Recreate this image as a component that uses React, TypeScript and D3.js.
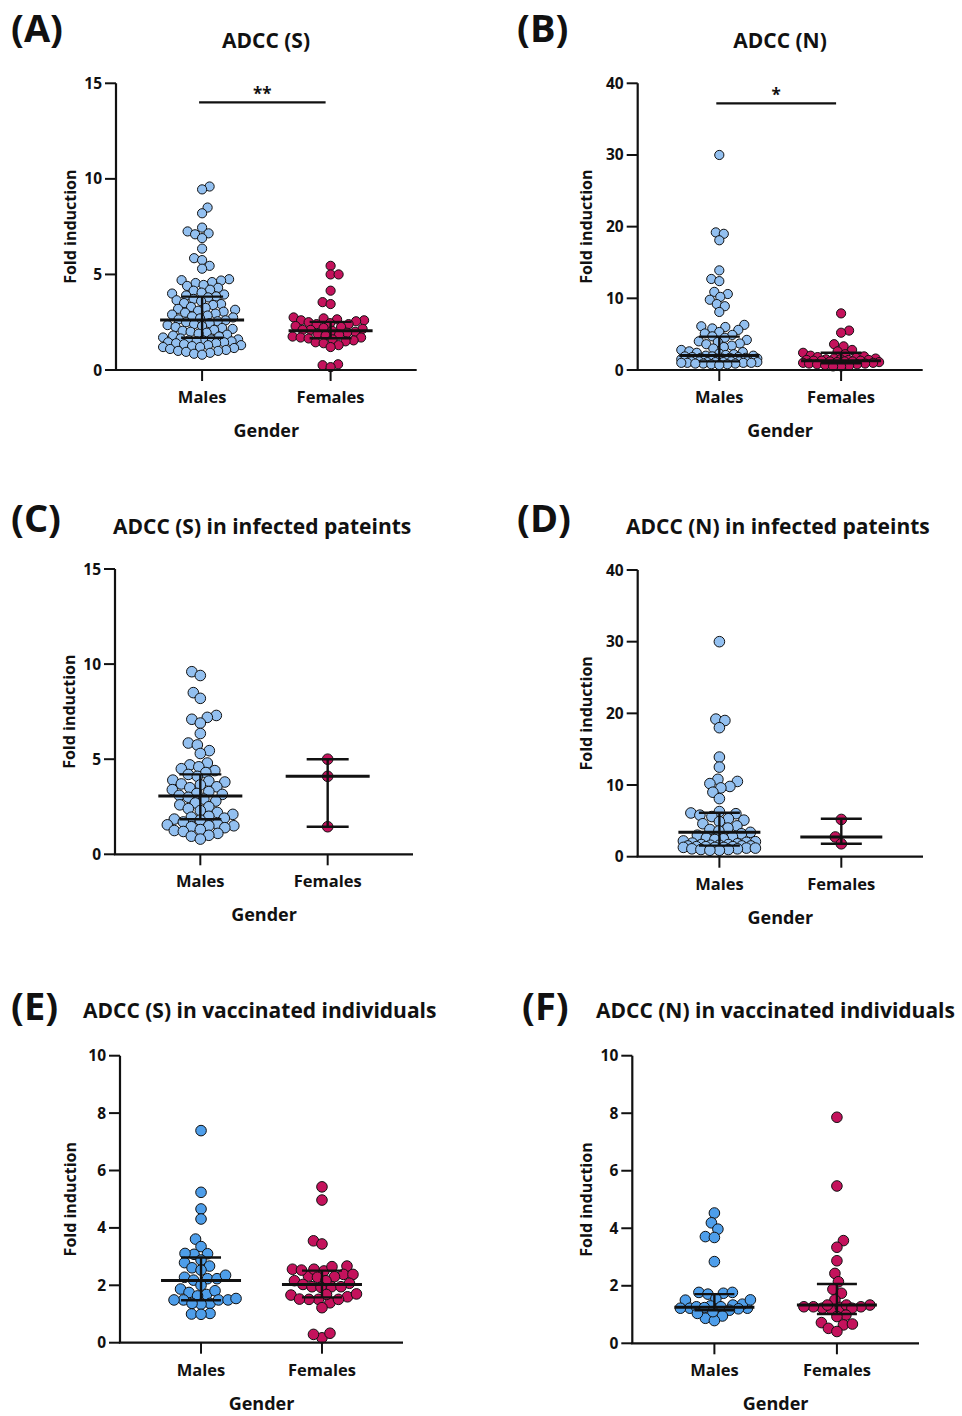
import React from "react";
import * as d3 from "d3";

// ---------------- DATA ----------------
const categories = ["Males", "Females"];
const ticks15 = [0, 5, 10, 15];
const ticks40 = [0, 10, 20, 30, 40];
const ticks10 = [0, 2, 4, 6, 8, 10];

// (A) ADCC (S) all
const maleS_all = [9.6, 9.45, 8.5, 8.2, 7.45, 7.25, 7.15, 7.1, 6.9, 6.35, 5.85, 5.75, 5.45, 5.3,
  4.75, 4.7, 4.68, 4.6, 4.55, 4.45, 4.4, 4.3, 4.2, 4.15, 4.05, 4.0, 3.95, 3.9,
  3.85, 3.8, 3.72, 3.65, 3.6, 3.5, 3.45, 3.4, 3.3, 3.25, 3.2, 3.15, 3.1, 3.05, 3.0,
  2.95, 2.9, 2.85, 2.8, 2.75, 2.7, 2.65, 2.6, 2.55, 2.5, 2.45, 2.4, 2.35, 2.3, 2.25, 2.2,
  2.15, 2.1, 2.05, 2.0, 1.95, 1.9, 1.85, 1.8, 1.75, 1.7, 1.65, 1.6, 1.6, 1.55, 1.55, 1.5,
  1.5, 1.45, 1.45, 1.4, 1.4, 1.35, 1.3, 1.3, 1.25, 1.2, 1.2, 1.15, 1.1, 1.05, 1.0, 1.0,
  0.95, 0.9, 0.85, 0.8];
const femaleS_all = [5.45, 5.0, 5.0, 4.15, 3.55, 3.45,
  2.75, 2.7, 2.65, 2.6, 2.6, 2.55, 2.5, 2.45, 2.4, 2.4,
  2.3, 2.25, 2.2, 2.15, 2.1, 2.1, 2.05, 2.0, 1.95, 1.9,
  1.85, 1.8, 1.75, 1.7, 1.7, 1.65, 1.6, 1.55, 1.5, 1.45,
  1.4, 1.3, 1.2, 0.3, 0.25, 0.15];
// (B) ADCC (N) all
const maleN_all = [30.0, 19.2, 19.0, 18.1, 13.9, 12.7, 12.4, 10.9, 10.6, 10.2, 9.8, 9.2, 8.9, 8.1,
  6.3, 6.1, 6.0, 5.8, 5.6, 5.3, 5.1, 4.9, 4.7, 4.5, 4.2, 4.0, 3.9, 3.7, 3.6, 3.4, 3.2, 3.0,
  2.8, 2.6, 2.5, 2.4, 2.3, 2.2, 2.1, 2.0, 2.0, 1.9, 1.9, 1.8, 1.8, 1.7, 1.7, 1.7, 1.6, 1.6,
  1.6, 1.5, 1.5, 1.5, 1.5, 1.4, 1.4, 1.4, 1.4, 1.3, 1.3, 1.3, 1.3, 1.3, 1.2, 1.2, 1.2, 1.2,
  1.2, 1.1, 1.1, 1.1, 1.1, 1.0, 1.0, 1.0, 1.0, 0.9, 0.9, 0.9, 0.8, 0.8, 0.7];
const femaleN_all = [7.9, 5.5, 5.2, 3.6, 3.3, 2.8, 2.6, 2.4, 2.2, 2.0, 1.9, 1.8, 1.7, 1.6, 1.6,
  1.5, 1.5, 1.4, 1.4, 1.4, 1.3, 1.3, 1.3, 1.2, 1.2, 1.2, 1.1, 1.1, 1.0, 1.0, 0.9, 0.9, 0.8,
  0.8, 0.7, 0.6, 0.5, 0.5];
// (C) ADCC (S) infected
const maleS_inf = [9.6, 9.4, 8.5, 8.2, 7.3, 7.2, 7.1, 6.9, 6.35, 5.85, 5.75, 5.45, 5.3, 4.8, 4.7,
  4.6, 4.5, 4.4, 4.3, 4.2, 4.1, 3.9, 3.85, 3.8, 3.7, 3.65, 3.55, 3.5, 3.4, 3.3, 3.2, 3.15,
  3.1, 3.0, 2.9, 2.8, 2.7, 2.6, 2.5, 2.4, 2.3, 2.2, 2.1, 2.0, 1.95, 1.9, 1.85, 1.8, 1.7,
  1.6, 1.55, 1.5, 1.5, 1.45, 1.4, 1.3, 1.25, 1.2, 1.1, 1.0, 0.95, 0.8];
const femaleS_inf = [5.0, 4.1, 1.45];
// (D) ADCC (N) infected
const maleN_inf = [30.0, 19.2, 19.0, 18.0, 13.9, 12.5, 10.8, 10.5, 10.2, 9.8, 9.6, 9.0, 8.1, 6.3,
  6.1, 6.0, 5.8, 5.6, 5.3, 5.1, 4.9, 4.6, 4.3, 4.0, 3.8, 3.6, 3.4, 3.2, 3.0, 2.8, 2.6, 2.5,
  2.4, 2.2, 2.1, 2.0, 1.9, 1.8, 1.7, 1.7, 1.6, 1.6, 1.5, 1.5, 1.5, 1.4, 1.4, 1.4, 1.3, 1.3,
  1.3, 1.2, 1.2, 1.1, 1.1, 1.0, 1.0, 0.9, 0.9];
const femaleN_inf = [5.2, 2.75, 1.8];
// (E) ADCC (S) vaccinated
const maleS_vac = [7.39, 5.24, 4.66, 4.31, 3.61, 3.35, 3.08, 3.11, 3.1, 2.88, 2.79, 2.61, 2.67,
  2.53, 2.23, 2.23, 2.28, 2.35, 2.18, 2.0, 1.87, 1.75, 1.68, 1.81, 1.63, 1.37, 1.49, 1.34,
  1.49, 1.37, 1.49, 1.49, 1.54, 1.0, 1.02, 0.99];
const femaleS_vac = [5.43, 4.97, 3.55, 3.44, 2.56, 2.5, 2.32, 2.53, 2.56, 2.67, 2.65, 2.38, 2.3,
  2.28, 2.38, 2.16, 1.95, 2.03, 1.95, 2.07, 2.16, 1.95, 1.93, 1.6, 1.39, 1.68, 1.51, 1.66,
  1.51, 1.51, 1.52, 1.7, 1.22, 0.17, 0.33, 0.29];
// (F) ADCC (N) vaccinated
const maleN_vac = [4.53, 4.19, 3.97, 3.71, 3.68, 2.84, 1.77, 1.71, 1.74, 1.77, 1.55, 1.5, 1.22,
  1.22, 1.3, 1.36, 1.27, 1.33, 1.22, 1.27, 1.24, 1.51, 1.2, 1.15, 0.87, 0.95, 0.79, 1.04, 1.1];
const femaleN_vac = [7.86, 5.47, 3.57, 3.34, 2.87, 2.43, 2.14, 1.88, 1.74, 1.51, 1.33, 1.18, 1.22,
  1.27, 1.27, 1.25, 1.27, 1.33, 1.22, 1.33, 0.98, 0.93, 0.72, 0.64, 0.67, 0.52, 0.41];

// median with interquartile range: [q1, median, q3]
const statsA_m = [1.69, 2.62, 3.84];
const statsA_f = [1.66, 2.06, 2.52];
const statsB_m = [1.2, 2.04, 4.65];
const statsB_f = [0.95, 1.3, 2.4];
const statsC_m = [1.84, 3.07, 4.2];
const statsC_f = [1.45, 4.1, 5.0];
const statsD_m = [1.54, 3.4, 6.14];
const statsD_f = [1.81, 2.75, 5.3];
const statsE_m = [1.48, 2.17, 2.97];
const statsE_f = [1.58, 2.03, 2.51];
const statsF_m = [1.15, 1.25, 1.71];
const statsF_f = [1.02, 1.33, 2.06];

// significance annotations
const sigA = { value: 14, label: "**" };
const sigB = { value: 37.2, label: "*" };

// ---------------- STYLE ----------------
const FONT = "'Open Sans', 'DejaVu Sans', sans-serif";
const lightBlue = "#93C0F0";
const brightBlue = "#4E9EEA";
const crimson = "#C4125C";
const ink = "#111";

type Panel = {
  label: string; labelX: number; labelY: number;
  title: string; titleX: number; titleY: number; titleAnchor: "start" | "middle";
  axisX: number; yTop: number; yBottom: number; xRight: number;
  max: number; ticks: number[]; ylabX: number;
  male: number[]; female: number[]; mStats: number[]; fStats: number[];
  maleColor: string; r: number; half: number; cap: number; spread: number;
  sig?: { value: number; label: string };
};

const panels: Panel[] = [
  { label: "(A)", labelX: 11, labelY: 42, title: "ADCC (S)", titleX: 266, titleY: 48, titleAnchor: "middle",
    axisX: 116, yTop: 83.3, yBottom: 370, xRight: 416.7, max: 15, ticks: ticks15, ylabX: 76,
    male: maleS_all, female: femaleS_all, mStats: statsA_m, fStats: statsA_f,
    maleColor: lightBlue, r: 4.6, half: 42, cap: 21, spread: 39, sig: sigA },
  { label: "(B)", labelX: 517, labelY: 42, title: "ADCC (N)", titleX: 780, titleY: 48, titleAnchor: "middle",
    axisX: 637.7, yTop: 83.3, yBottom: 370, xRight: 922.7, max: 40, ticks: ticks40, ylabX: 592,
    male: maleN_all, female: femaleN_all, mStats: statsB_m, fStats: statsB_f,
    maleColor: lightBlue, r: 4.6, half: 40, cap: 20.5, spread: 38, sig: sigB },
  { label: "(C)", labelX: 11, labelY: 532, title: "ADCC (S) in infected pateints", titleX: 113, titleY: 534, titleAnchor: "start",
    axisX: 115, yTop: 569, yBottom: 854.3, xRight: 413, max: 15, ticks: ticks15, ylabX: 75,
    male: maleS_inf, female: femaleS_inf, mStats: statsC_m, fStats: statsC_f,
    maleColor: lightBlue, r: 5.3, half: 42, cap: 21, spread: 37 },
  { label: "(D)", labelX: 517, labelY: 532, title: "ADCC (N) in infected pateints", titleX: 626, titleY: 534, titleAnchor: "start",
    axisX: 637.7, yTop: 570, yBottom: 856.7, xRight: 923, max: 40, ticks: ticks40, ylabX: 592,
    male: maleN_inf, female: femaleN_inf, mStats: statsD_m, fStats: statsD_f,
    maleColor: lightBlue, r: 5.3, half: 41, cap: 20.5, spread: 36 },
  { label: "(E)", labelX: 11, labelY: 1020, title: "ADCC (S) in vaccinated individuals", titleX: 83, titleY: 1018, titleAnchor: "start",
    axisX: 120, yTop: 1055.7, yBottom: 1342.7, xRight: 403, max: 10, ticks: ticks10, ylabX: 76,
    male: maleS_vac, female: femaleS_vac, mStats: statsE_m, fStats: statsE_f,
    maleColor: brightBlue, r: 5.3, half: 40, cap: 20, spread: 35 },
  { label: "(F)", labelX: 522, labelY: 1020, title: "ADCC (N) in vaccinated individuals", titleX: 596, titleY: 1018, titleAnchor: "start",
    axisX: 632.3, yTop: 1055.7, yBottom: 1343.3, xRight: 919, max: 10, ticks: ticks10, ylabX: 592,
    male: maleN_vac, female: femaleN_vac, mStats: statsF_m, fStats: statsF_f,
    maleColor: brightBlue, r: 5.3, half: 40, cap: 20, spread: 36 },
];

// beeswarm limited to +-maxHalf; if no free slot, use the least crowded one
function swarm(values: number[], y: (v: number) => number, d: number, maxHalf: number) {
  const pts = values.map((v) => ({ v, y: y(v), dx: 0 }));
  const order = pts.slice().sort((a, b) => a.v - b.v);
  const placed: { y: number; dx: number }[] = [];
  const slots: number[] = [];
  for (let s = 0; s <= maxHalf; s += 0.5) { if (s === 0) slots.push(0); else slots.push(s, -s); }
  order.forEach((p, i) => {
    const near = placed.filter((q) => Math.abs(q.y - p.y) < d);
    const flip = i % 2 === 0 ? 1 : -1;
    let best = 0, bestScore = -1;
    for (const s0 of slots) {
      const s = s0 * flip;
      let minD = Infinity;
      for (const q of near) {
        const dd = Math.hypot(q.dx - s, q.y - p.y);
        if (dd < minD) minD = dd;
      }
      if (minD >= d) { best = s; break; }
      if (minD > bestScore) { bestScore = minD; best = s; }
    }
    p.dx = best;
    placed.push(p);
  });
  return pts;
}

function ErrorBar({ x, stats, y, half, cap }: { x: number; stats: number[]; y: d3.ScaleLinear<number, number>; half: number; cap: number }) {
  const [q1, med, q3] = stats;
  return (
    <g stroke={ink} strokeLinecap="butt">
      <line x1={x} x2={x} y1={y(q1)} y2={y(q3)} strokeWidth={2.4} />
      <line x1={x - cap} x2={x + cap} y1={y(q3)} y2={y(q3)} strokeWidth={2.4} />
      <line x1={x - cap} x2={x + cap} y1={y(q1)} y2={y(q1)} strokeWidth={2.4} />
      <line x1={x - half} x2={x + half} y1={y(med)} y2={y(med)} strokeWidth={3} />
    </g>
  );
}

function PanelView({ p }: { p: Panel }) {
  const y = d3.scaleLinear().domain([0, p.max]).range([p.yBottom, p.yTop]);
  const x = d3.scalePoint<string>().domain(categories).range([p.axisX, p.xRight]).padding(0.67);
  const xm = x("Males")!;
  const xf = x("Females")!;
  const d = p.r * 1.7;
  const ms = swarm(p.male, y, d, p.spread);
  const fs = swarm(p.female, y, d, p.spread);
  const mid = (p.axisX + p.xRight) / 2;
  const ymid = (p.yTop + p.yBottom) / 2;
  return (
    <g fontFamily={FONT} fontWeight={700} fill={ink}>
      <text x={p.labelX} y={p.labelY} fontSize={38}>{p.label}</text>
      <text x={p.titleX} y={p.titleY} fontSize={21} textAnchor={p.titleAnchor}>{p.title}</text>
      <g stroke={ink} strokeWidth={1}>
        {ms.map((pt, i) => (
          <circle key={"m" + i} cx={xm + pt.dx} cy={pt.y} r={p.r} fill={p.maleColor} />
        ))}
        {fs.map((pt, i) => (
          <circle key={"f" + i} cx={xf + pt.dx} cy={pt.y} r={p.r} fill={crimson} />
        ))}
      </g>
      <ErrorBar x={xm} stats={p.mStats} y={y} half={p.half} cap={p.cap} />
      <ErrorBar x={xf} stats={p.fStats} y={y} half={p.half} cap={p.cap} />
      <line x1={p.axisX} x2={p.axisX} y1={p.yTop} y2={p.yBottom} stroke={ink} strokeWidth={2.2} />
      <line x1={p.axisX - 1.1} x2={p.xRight} y1={p.yBottom} y2={p.yBottom} stroke={ink} strokeWidth={2.2} />
      {p.ticks.map((t) => (
        <g key={t}>
          <line x1={p.axisX - 11} x2={p.axisX} y1={y(t)} y2={y(t)} stroke={ink} strokeWidth={2} />
          <text x={p.axisX - 14} y={y(t) + 5.5} fontSize={15.5} textAnchor="end">{t}</text>
        </g>
      ))}
      {categories.map((c) => (
        <g key={c}>
          <line x1={x(c)!} x2={x(c)!} y1={p.yBottom} y2={p.yBottom + 11} stroke={ink} strokeWidth={2} />
          <text x={x(c)!} y={p.yBottom + 33} fontSize={16.5} textAnchor="middle">{c}</text>
        </g>
      ))}
      <text x={mid} y={p.yBottom + 67} fontSize={18} textAnchor="middle">Gender</text>
      <text transform={`translate(${p.ylabX},${ymid}) rotate(-90)`} fontSize={16} textAnchor="middle">Fold induction</text>
      {p.sig && (
        <g>
          <line x1={xm - 3} x2={xf - 5} y1={y(p.sig.value)} y2={y(p.sig.value)} stroke={ink} strokeWidth={2.2} />
          <text x={(xm + xf) / 2 - 4} y={y(p.sig.value) - 2} fontSize={17} textAnchor="middle">{p.sig.label}</text>
        </g>
      )}
    </g>
  );
}

export default function App() {
  return (
    <svg width={962} height={1416} viewBox="0 0 962 1416"
      style={{ position: "absolute", left: 0, top: 0, background: "#fff", display: "block" }}>
      <rect width={962} height={1416} fill="#fff" />
      {panels.map((p) => <PanelView key={p.label} p={p} />)}
    </svg>
  );
}
